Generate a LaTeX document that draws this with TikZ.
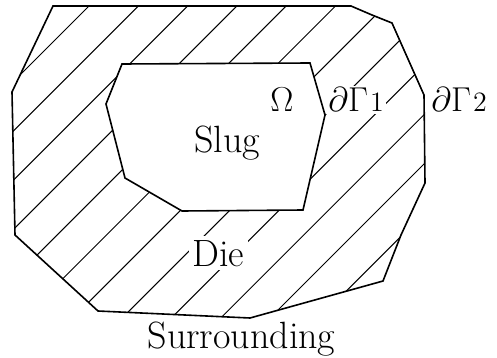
\documentclass[tikz,border=0pt]{standalone}
\usepackage{amsmath,amssymb}
\usepackage{fontspec}
\usepackage{tikz}

\begin{document}
\begin{tikzpicture}[
    x=0.5pt, y=-0.5pt,
    rim/.style={line width=0.8pt, line join=miter},
    hatch/.style={line width=0.5pt},
    lbl/.style={font=\fontsize{19}{22}\selectfont, inner sep=1pt, anchor=base},
    sym/.style={lbl, font=\fontsize{17}{20}\selectfont},
    cut/.style={lbl, fill=white},
]

\useasboundingbox (0,0) rectangle (497,358);

% Corners of the die (outer) and the slug (inner)
\foreach \x/\y [count=\k] in {53/6, 351/6, 372/15, 392/23, 424/95, 425/183,
    401/235, 383/281, 250/318, 98/311, 15/235, 12/92}
  \coordinate (o\k) at (\x,\y);
\foreach \x/\y [count=\k] in {122/64, 310/63, 325/115, 303/210, 182/211,
    125/178, 106/104}
  \coordinate (s\k) at (\x,\y);

% Hatching of the die
\begin{scope}
  \clip (o1) foreach \k in {2,...,12}{-- (o\k)} -- cycle;
  \foreach \k in {0,...,11}
    \draw[hatch] ({95+49.3*\k},0) -- ({95+49.3*\k-358},358);
\end{scope}
\fill[white] (s1) foreach \k in {2,...,7}{-- (s\k)} -- cycle;

% Labels
\node[lbl] (slug) at (227,152) {\addfontfeature{LetterSpace=2}Slug};
\node[cut, inner sep=2pt] (die) at (218.5,266) {Die};
\node[lbl] (surr) at (241.5,348) {\addfontfeature{LetterSpace=9}Surrounding};
\node[sym] (omega) at (282,112) {$\Omega$};
\node[sym, fill=white, anchor=base west] (gam1) at (326,112)
  {$\partial\Gamma$\kern1pt{\fontsize{14}{16}\selectfont 1}};
\node[sym, anchor=base west] (gam2) at (429,112)
  {$\partial\Gamma$\kern1pt{\fontsize{14}{16}\selectfont 2}};

% Boundaries
\draw[rim] (o1) foreach \k in {2,...,12}{-- (o\k)} -- cycle;
\draw[rim] (s1) foreach \k in {2,...,7}{-- (s\k)} -- cycle;

\end{tikzpicture}
\end{document}
